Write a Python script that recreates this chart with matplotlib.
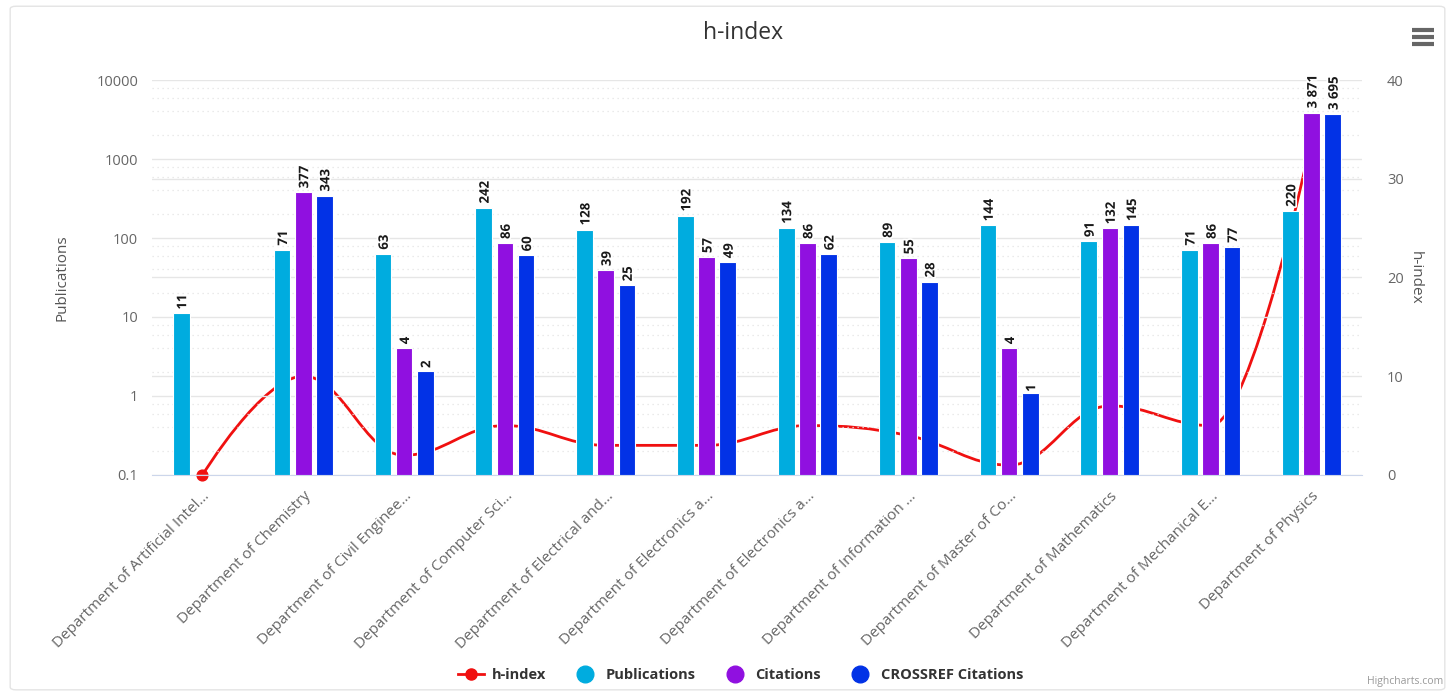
import numpy as np
import matplotlib
matplotlib.use("Agg")
import matplotlib.pyplot as plt
from matplotlib.path import Path
from matplotlib.patches import PathPatch, FancyBboxPatch
from matplotlib.lines import Line2D
import matplotlib.patheffects as pe

plt.rcParams['font.family'] = ['Open Sans', 'DejaVu Sans']

departments = [
    "Department of Artificial Intel\u2026",
    "Department of Chemistry",
    "Department of Civil Enginee\u2026",
    "Department of Computer Sci\u2026",
    "Department of Electrical and\u2026",
    "Department of Electronics a\u2026",
    "Department of Electronics a\u2026",
    "Department of Information \u2026",
    "Department of Master of Co\u2026",
    "Department of Mathematics",
    "Department of Mechanical E\u2026",
    "Department of Physics",
]
publications = [11, 71, 63, 242, 128, 192, 134, 89, 144, 91, 71, 220]
citations = [None, 377, 4, 86, 39, 57, 86, 55, 4, 132, 86, 3871]
crossref = [None, 343, 2, 60, 25, 49, 62, 28, 1, 145, 77, 3695]
h_index = [0, 10, 2, 5, 3, 3, 5, 4, 1, 7, 5, 34]

c_pub = "#00acdf"
c_cit = "#9010e0"
c_cross = "#0232e6"
c_h = "#f01010"


def spline_path(xs, ys, smoothing=1.5):
    # highcharts style spline control points
    n = len(xs)
    left = [(xs[i], ys[i]) for i in range(n)]
    right = [(xs[i], ys[i]) for i in range(n)]
    den = smoothing + 1
    for i in range(1, n - 1):
        px, py = xs[i], ys[i]
        lx, ly = xs[i - 1], ys[i - 1]
        nx, ny = xs[i + 1], ys[i + 1]
        lcx = (smoothing * px + lx) / den
        lcy = (smoothing * py + ly) / den
        rcx = (smoothing * px + nx) / den
        rcy = (smoothing * py + ny) / den
        if rcx != lcx:
            corr = (rcy - lcy) * (rcx - px) / (rcx - lcx) + py - rcy
            lcy += corr
            rcy += corr
        if lcy > ly and lcy > py:
            lcy = max(ly, py)
            rcy = 2 * py - lcy
        elif lcy < ly and lcy < py:
            lcy = min(ly, py)
            rcy = 2 * py - lcy
        if rcy > ny and rcy > py:
            rcy = max(ny, py)
            lcy = 2 * py - rcy
        elif rcy < ny and rcy < py:
            rcy = min(ny, py)
            lcy = 2 * py - rcy
        left[i] = (lcx, lcy)
        right[i] = (rcx, rcy)
    verts = [(xs[0], ys[0])]
    codes = [Path.MOVETO]
    for i in range(1, n):
        verts += [right[i - 1], left[i], (xs[i], ys[i])]
        codes += [Path.CURVE4] * 3
    return Path(verts, codes)


fig = plt.figure(figsize=(14.55, 6.94), dpi=100)
fig.patches.append(FancyBboxPatch((0.007, 0.006), 0.986, 0.985,
                                  boxstyle="round,pad=0,rounding_size=0.004",
                                  transform=fig.transFigure, fill=False,
                                  edgecolor="#e4e4e4", linewidth=1))

ax = fig.add_axes([0.1045, 0.3156, 0.8316, 0.5691])
ax2 = ax.twinx()
ax.set_zorder(ax2.get_zorder() + 1)
ax.patch.set_visible(False)

x = np.arange(len(departments))
w = 0.165
off = 0.21

ax.set_yscale("log")
ax.set_ylim(0.1, 10000)
ax.set_xlim(-0.5, len(departments) - 0.5)
ax2.set_ylim(0, 40)

# grid lines
for k in range(-1, 5):
    ax.axhline(10.0 ** k, color="#e6e6e6", lw=1, zorder=0)
    if k < 4:
        for m in (2, 4, 6, 8):
            ax.axhline(m * 10.0 ** k, color="#e4e4e4", lw=0.9, ls=(0, (1, 3)), zorder=0)
for v in (10, 20, 30):
    ax2.axhline(v, color="#e6e6e6", lw=1, zorder=0)

# h-index line behind the bars
path = spline_path(list(x.astype(float)), [float(v) for v in h_index])
ax2.add_patch(PathPatch(path, facecolor="none", edgecolor=c_h, lw=2, zorder=2))
ax2.scatter(x, h_index, s=60, color=c_h, zorder=3, clip_on=False)

series = [(publications, c_pub, -off), (citations, c_cit, 0), (crossref, c_cross, off)]
for vals, col, dx in series:
    v = np.array([np.nan if a is None else a for a in vals], dtype=float)
    ax.bar(x + dx, v, width=w, bottom=0.1, color=col, edgecolor="white",
           linewidth=0.8, zorder=3)
    for xi, a in zip(x, vals):
        if a is None:
            continue
        ax.annotate(f"{a:,}".replace(",", " "), (xi + dx, a), xytext=(1, 3),
                    textcoords="offset points", rotation=90, ha="center",
                    va="bottom", fontsize=9.5, fontweight="bold", color="#1a1a1a",
                    zorder=5,
                    path_effects=[pe.withStroke(linewidth=2.5, foreground="white")])

ax.set_yticks([0.1, 1, 10, 100, 1000, 10000])
ax.set_yticklabels(["0.1", "1", "10", "100", "1000", "10000"])
ax.yaxis.set_minor_locator(matplotlib.ticker.NullLocator())
ax2.set_yticks([0, 10, 20, 30, 40])
ax.set_xticks(x)
ax.set_xticklabels(departments, rotation=45, ha="right", va="top",
                   rotation_mode="anchor", fontsize=11, color="#666666")
ax.tick_params(axis="x", length=0, pad=10)
ax.tick_params(axis="y", length=0, labelsize=10.5, labelcolor="#666666", pad=10)
ax2.tick_params(axis="y", length=0, labelsize=10.5, labelcolor="#666666", pad=18)
ax2.tick_params(axis="x", length=0)

for a in (ax, ax2):
    for s in a.spines.values():
        s.set_visible(False)
ax.spines["bottom"].set_visible(True)
ax.spines["bottom"].set_color("#ccd6eb")

ax.set_ylabel("Publications", fontsize=11, color="#555555", labelpad=19)
ax2.set_ylabel("h-index", fontsize=11, color="#555555", rotation=270, labelpad=14)

fig.text(0.511, 0.952, "h-index", ha="center", va="center", fontsize=16.5, color="#333333")

# legend
handles = [
    Line2D([0], [0], color=c_h, lw=2, marker="o", markersize=8),
    Line2D([0], [0], ls="none", marker="o", markersize=12, color=c_pub),
    Line2D([0], [0], ls="none", marker="o", markersize=12, color=c_cit),
    Line2D([0], [0], ls="none", marker="o", markersize=12, color=c_cross),
]
fig.legend(handles, ["h-index", "Publications", "Citations", "CROSSREF Citations"],
           loc="center", bbox_to_anchor=(0.509, 0.027), ncol=4, frameon=False,
           prop={"weight": "bold", "size": 10.5}, labelcolor="#333333",
           handlelength=1.8, handletextpad=0.5, columnspacing=1.8)

# menu icon and credits
for yy in (0.957, 0.946, 0.936):
    fig.add_artist(Line2D([0.9705, 0.9855], [yy, yy], color="#666666", lw=3,
                          transform=fig.transFigure, solid_capstyle="butt"))
fig.text(0.992, 0.01, "Highcharts.com", ha="right", va="bottom", fontsize=7.5,
         color="#999999")

fig.savefig("out.png", dpi=100)
